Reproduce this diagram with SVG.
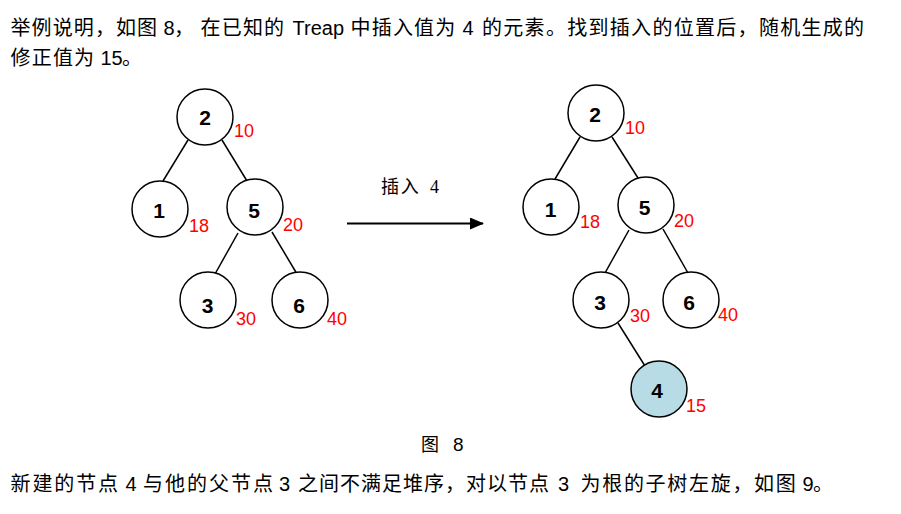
<svg xmlns="http://www.w3.org/2000/svg" width="901" height="514" viewBox="0 0 901 514">
<defs>
<style>
.cjk{font-family:"Noto Sans CJK SC",sans-serif;font-size:20px;fill:#000}
.lat{font-family:"Liberation Sans","Noto Sans CJK SC",sans-serif;font-size:20px;fill:#000}
.node{fill:#fff;stroke:#000;stroke-width:1.5}
.new{fill:#b7dce6}
.nl{font-family:"Liberation Sans",sans-serif;font-size:21px;font-weight:bold;fill:#000;text-anchor:middle}
.pri{font-family:"Liberation Sans",sans-serif;font-size:18px;fill:#ff0000}
.edge{stroke:#000;stroke-width:1.5;fill:none}
</style>
<marker id="ah" markerWidth="14" markerHeight="12" refX="13" refY="6" orient="auto" markerUnits="userSpaceOnUse">
<path d="M0,0 L14,6 L0,12 Z" fill="#000"/>
</marker>
</defs>
<rect width="901" height="514" fill="#fff"/>

<g id="text-top">
<text class="cjk" x="10.5" y="35" letter-spacing="1.1">举例说明，如图</text>
<text class="lat" x="163.5" y="35">8</text>
<text class="cjk" x="174" y="35">，</text>
<text class="cjk" x="200.5" y="35" letter-spacing="1.2">在已知的</text>
<text class="lat" x="292.5" y="35">Treap</text>
<text class="cjk" x="350.5" y="35" letter-spacing="1.2">中插入值为</text>
<text class="lat" x="462.5" y="35">4</text>
<text class="cjk" x="482" y="35" letter-spacing="1.3">的元素。找到插入的位置后，随机生成的</text>
<text class="cjk" x="10.5" y="65" letter-spacing="1.2">修正值为</text>
<text class="lat" x="100.5" y="65">15</text>
<text class="cjk" x="122" y="65">。</text>
</g>

<g id="connectors">
<line class="edge" x1="188" y1="140" x2="163" y2="181"/>
<line class="edge" x1="222" y1="140" x2="247" y2="181"/>
<line class="edge" x1="238" y1="233" x2="215" y2="274"/>
<line class="edge" x1="272" y1="232" x2="297" y2="274"/>
<line class="edge" x1="580" y1="137" x2="555" y2="179"/>
<line class="edge" x1="612" y1="137" x2="638" y2="178"/>
<line class="edge" x1="629" y1="230" x2="605" y2="273"/>
<line class="edge" x1="663" y1="229" x2="688" y2="273"/>
<line class="edge" x1="618" y1="323" x2="645" y2="366"/>
<line x1="347" y1="223.5" x2="483" y2="223.5" stroke="#000" stroke-width="2" marker-end="url(#ah)"/>
</g>

<g id="arrow-label">
<text class="cjk" x="381" y="193" letter-spacing="1.8" style="font-size:18px">插入</text>
<text x="430" y="193" style="font-family:'Liberation Serif',serif;font-size:18px">4</text>
</g>

<g id="L2"><circle class="node" cx="205" cy="117" r="28"/><text class="nl" x="205" y="125">2</text><text class="pri" x="234" y="137">10</text></g>
<g id="L1"><circle class="node" cx="160" cy="209" r="28"/><text class="nl" x="159" y="218">1</text><text class="pri" x="189" y="232">18</text></g>
<g id="L5"><circle class="node" cx="255" cy="207" r="28"/><text class="nl" x="254" y="217.5">5</text><text class="pri" x="283" y="231">20</text></g>
<g id="L3"><circle class="node" cx="208" cy="300" r="28"/><text class="nl" x="207.5" y="313">3</text><text class="pri" x="236" y="325">30</text></g>
<g id="L6"><circle class="node" cx="300" cy="300" r="28"/><text class="nl" x="299" y="313">6</text><text class="pri" x="327" y="325">40</text></g>

<g id="R2"><circle class="node" cx="596" cy="113" r="28"/><text class="nl" x="595" y="121.5">2</text><text class="pri" x="625" y="134">10</text></g>
<g id="R1"><circle class="node" cx="551" cy="207" r="28"/><text class="nl" x="550.5" y="216.5">1</text><text class="pri" x="580" y="228">18</text></g>
<g id="R5"><circle class="node" cx="646" cy="205" r="28"/><text class="nl" x="644.5" y="215">5</text><text class="pri" x="674" y="227">20</text></g>
<g id="R3"><circle class="node" cx="601" cy="300" r="28"/><text class="nl" x="600" y="310">3</text><text class="pri" x="630" y="322">30</text></g>
<g id="R6"><circle class="node" cx="691" cy="300" r="28"/><text class="nl" x="689" y="310">6</text><text class="pri" x="718" y="321">40</text></g>
<g id="R4"><circle class="node new" cx="659" cy="389" r="28"/><text class="nl" x="657" y="398">4</text><text class="pri" x="686" y="412">15</text></g>

<g id="caption">
<text class="cjk" x="421" y="451" style="font-size:18px">图</text>
<text class="lat" x="453" y="451" style="font-size:19px">8</text>
</g>

<g id="text-bottom">
<text class="cjk" x="10.5" y="491" letter-spacing="1.9">新建的节点</text>
<text class="lat" x="125.5" y="491">4</text>
<text class="cjk" x="143" y="491" letter-spacing="2">与他的父节点</text>
<text class="lat" x="279" y="491">3</text>
<text class="cjk" x="298" y="491" letter-spacing="1.0">之间不满足堆序，对以节点</text>
<text class="lat" x="558" y="491">3</text>
<text class="cjk" x="580.5" y="491" letter-spacing="1.7">为根的子树左旋，如图</text>
<text class="lat" x="802.5" y="491">9</text>
<text class="cjk" x="813" y="491">。</text>
</g>
</svg>
